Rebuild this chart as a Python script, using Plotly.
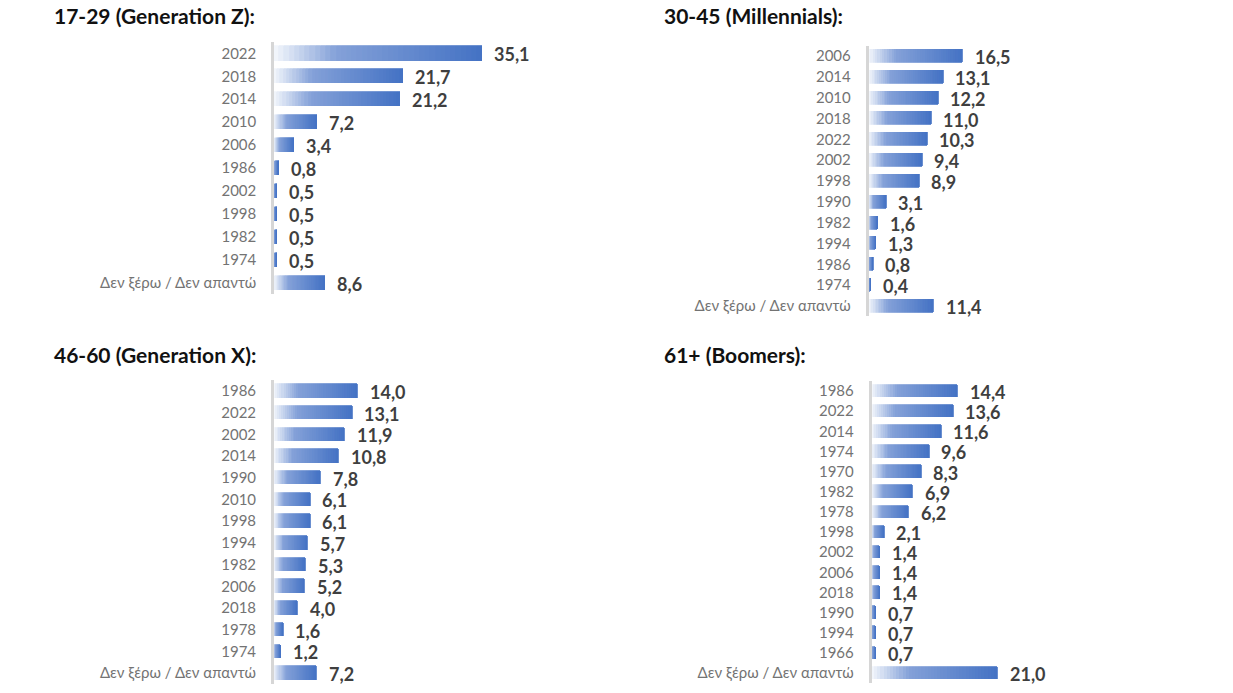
import plotly.graph_objects as go

W, H = 1233, 693

DK = "Δεν ξέρω / Δεν απαντώ"

genz_title = "17-29 (Generation Z):"
genz_cats = ["2022", "2018", "2014", "2010", "2006", "1986", "2002", "1998", "1982", "1974", DK]
genz_vals = [35.1, 21.7, 21.2, 7.2, 3.4, 0.8, 0.5, 0.5, 0.5, 0.5, 8.6]

mill_title = "30-45 (Millennials):"
mill_cats = ["2006", "2014", "2010", "2018", "2022", "2002", "1998", "1990", "1982", "1994", "1986", "1974", DK]
mill_vals = [16.5, 13.1, 12.2, 11.0, 10.3, 9.4, 8.9, 3.1, 1.6, 1.3, 0.8, 0.4, 11.4]

genx_title = "46-60 (Generation X):"
genx_cats = ["1986", "2022", "2002", "2014", "1990", "2010", "1998", "1994", "1982", "2006", "2018", "1978", "1974", DK]
genx_vals = [14.0, 13.1, 11.9, 10.8, 7.8, 6.1, 6.1, 5.7, 5.3, 5.2, 4.0, 1.6, 1.2, 7.2]

boom_title = "61+ (Boomers):"
boom_cats = ["1986", "2022", "2014", "1974", "1970", "1982", "1978", "1998", "2002", "2006", "2018", "1990", "1994", "1966", DK]
boom_vals = [14.4, 13.6, 11.6, 9.6, 8.3, 6.9, 6.2, 2.1, 1.4, 1.4, 1.4, 0.7, 0.7, 0.7, 21.0]

# panel layout in pixels: (x zero, px per unit, xmax, y top, y bottom, title x, title y)
panels = [
    (genz_title, genz_cats, genz_vals, 274.0, 5.94, 50, 41.9, 294.0, 52, 16),
    (mill_title, mill_cats, mill_vals, 868.5, 5.71, 40, 45.6, 316.4, 662, 16),
    (genx_title, genx_cats, genx_vals, 273.8, 6.0, 40, 380.1, 684.0, 52, 354),
    (boom_title, boom_cats, boom_vals, 871.5, 6.0, 40, 381.0, 683.0, 662, 354),
]

# gradient stops (fraction along bar, rgb)
stops = [(0.0, (246, 249, 253)), (0.3, (132, 161, 216)), (1.0, (68, 114, 196))]


def grad(t):
    for (t0, c0), (t1, c1) in zip(stops[:-1], stops[1:]):
        if t <= t1:
            f = (t - t0) / (t1 - t0) if t1 > t0 else 0
            return "rgb(%d,%d,%d)" % tuple(round(a + (b - a) * f) for a, b in zip(c0, c1))
    return "rgb(%d,%d,%d)" % stops[-1][1]


NSEG = 40

fig = go.Figure()
annotations = []
layout_axes = {}

for i, (title, cats, vals, x0, ppu, xmax, yt, yb, tx, ty) in enumerate(panels):
    n = i + 1
    xa = "x" if n == 1 else f"x{n}"
    ya = "y" if n == 1 else f"y{n}"
    for k in range(NSEG):
        col = grad((k + 0.5) / NSEG)
        fig.add_trace(go.Bar(
            x=[v / NSEG for v in vals], y=cats, orientation="h",
            xaxis=xa, yaxis=ya, width=0.62,
            marker=dict(color=col, line=dict(width=0.8, color=col)),
            showlegend=False, hoverinfo="skip",
        ))
    for j, v in enumerate(vals):
        annotations.append(dict(
            x=v, y=j, xref=xa, yref=ya, text="<b>" + f"{v:.1f}".replace(".", ",") + "</b>",
            showarrow=False, xanchor="left", yanchor="middle", xshift=10, yshift=-1,
            font=dict(family="Lato", size=18, color="#3f3f3f"),
        ))
    annotations.append(dict(
        x=tx / W, y=1 - ty / H, xref="paper", yref="paper", text="<b>" + title + "</b>",
        showarrow=False, xanchor="left", yanchor="middle",
        font=dict(family="Lato", size=21, color="#111111"),
    ))
    x1 = x0 + ppu * xmax
    layout_axes["xaxis" if n == 1 else f"xaxis{n}"] = dict(
        domain=[x0 / W, x1 / W], range=[0, xmax], anchor=ya,
        showgrid=False, zeroline=False, showline=False, showticklabels=False,
        fixedrange=True,
    )
    layout_axes["yaxis" if n == 1 else f"yaxis{n}"] = dict(
        domain=[1 - yb / H, 1 - yt / H], anchor=xa, type="category",
        categoryorder="array", categoryarray=cats, range=[len(cats) - 0.5, -0.5],
        showgrid=False, zeroline=False, showline=True, linecolor="#d6d6d6",
        linewidth=2.5, ticks="", ticklabelstandoff=12,
        tickfont=dict(family="Lato", size=15, color="#737373"),
        fixedrange=True,
    )

fig.update_layout(
    width=W, height=H, margin=dict(l=0, r=0, t=0, b=0),
    paper_bgcolor="white", plot_bgcolor="white",
    barmode="stack", bargap=0, annotations=annotations,
    **layout_axes,
)

fig.write_html("out.html")
